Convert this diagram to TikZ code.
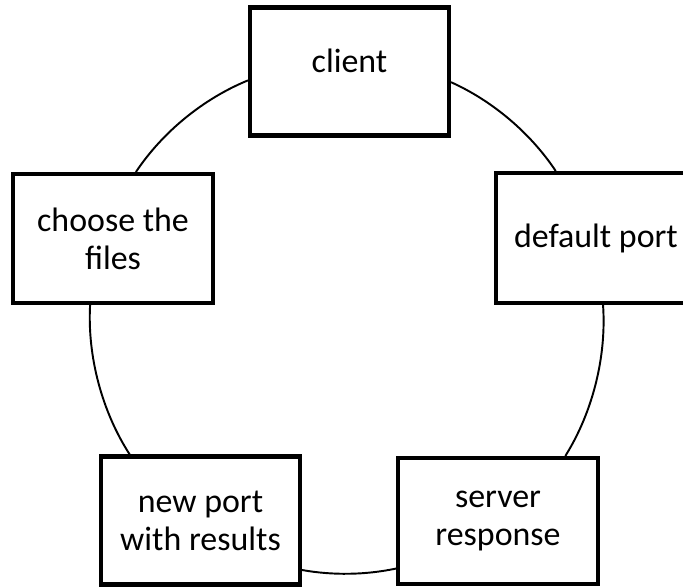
\documentclass[tikz,border=0pt]{standalone}
\usepackage{fontspec}
\setmainfont{Carlito}
\usepackage{tikz}
\tikzset{
  stage/.style={draw=black,fill=white,line width=2.3pt,minimum width=3.98cm,
    minimum height=2.56cm,inner sep=0pt,align=center,
    font=\fontsize{19.3}{21.6}\selectfont},
  ring/.style={draw=black,line width=1.1pt,looseness=0.85}
}

\begin{document}
\begin{tikzpicture}[x=0.02cm,y=0.02cm]
\clip (0,0) rectangle (683,586);
\fill[white] (0,0) rectangle (683,586);
\node[stage,text depth=12.4pt] (client) at (349.5,514.5) {client};
\node[stage,minimum width=4cm,minimum height=2.58cm] (choose) at (113,347.5) {choose the\\files};
\node[stage,minimum width=4cm,minimum height=2.6cm] (default) at (596,348) {default port};
\node[stage] (newport) at (200.5,65.5) {new port\\with results};
\node[stage,minimum width=4cm,minimum height=2.52cm] (server) at (498,65) {server\\response};
% arcs of the ring, anti-clockwise
\foreach \a/\b/\t in {client.185/choose.71/17,choose.251/newport.137/18,
    newport.334/server.205/11,server.44/default.276/18,default.121/client.354/16}
  \draw[ring] (\a) to[bend right=\t] (\b);
\end{tikzpicture}
\end{document}
